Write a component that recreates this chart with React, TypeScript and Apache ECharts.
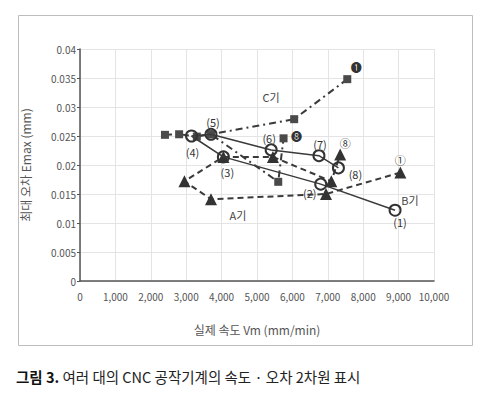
import React, { useEffect, useRef } from "react";
import * as echarts from "echarts";

// Series B (circles, solid line), points in label order (1)..(8)
const bLabels = ["(1)", "(2)", "(3)", "(4)", "(5)", "(6)", "(7)", "(8)"];
const bX = [8900, 6800, 4050, 3150, 3700, 5400, 6750, 7300];
const bY = [0.0122, 0.0167, 0.0214, 0.025, 0.0253, 0.0226, 0.0216, 0.0195];

// Series A (triangles, dashed line)
const aLabels = ["①", "", "", "", "", "", "", "⑧"];
const aX = [9050, 6950, 3700, 2950, 4050, 5450, 7100, 7350];
const aY = [0.0187, 0.015, 0.0141, 0.0172, 0.0214, 0.0214, 0.0172, 0.0218];

// Series C (squares, dash-dot line)
const cLabels = ["❶", "", "", "", "❽"];
const cX = [7550, 6050, 3700, 5600, 5750];
const cY = [0.0348, 0.0279, 0.0253, 0.0171, 0.0246];
const cLeftX = [2400, 2800, 3300, 3700];
const cLeftY = [0.0252, 0.0253, 0.0249, 0.0253];

const xTicks = ["0", "1,000", "2,000", "3,000", "4,000", "5,000", "6,000", "7,000", "8,000", "9,000", "10,000"];
const groupNames = ["A기", "B기", "C기"];

// label offsets (styling)
const bOffsets = [[5, 12], [-11, 9], [4, 15], [1, 16], [2, -12], [-2, -12], [1, -12], [17, 6]];
const aOffsets = [[0, -13], [0, 0], [0, 0], [0, 0], [0, 0], [0, 0], [0, 0], [5, -12]];
const cOffsets = [[9, -12], [0, 0], [0, 0], [0, 0], [13, -2]];

const FONT = "'Noto Sans CJK KR', 'Noto Sans', sans-serif";
const INK = "#3a3a3a";

function mk(xs: number[], ys: number[], labels?: string[], offs?: number[][]) {
  return xs.map((x, i) => {
    const lbl = labels ? labels[i] : "";
    const item: any = { value: [x, ys[i]] };
    if (lbl) {
      item.label = {
        show: true,
        formatter: lbl,
        position: "inside",
        offset: offs ? offs[i] : [0, 0],
        color: "#333",
        fontSize: 11,
        fontFamily: FONT,
      };
    }
    return item;
  });
}

export default function App() {
  const ref = useRef<HTMLDivElement>(null);
  useEffect(() => {
    if (!ref.current) return;
    const chart = echarts.init(ref.current, null, { renderer: "svg" });
    const option: any = {
      animation: false,
      backgroundColor: "#fff",
      grid: { left: 80, right: 52, top: 49, bottom: 112 },
      xAxis: {
        type: "value",
        min: 0,
        max: 10000,
        interval: 1000,
        name: "실제 속도 Vm (mm/min)",
        nameLocation: "middle",
        nameGap: 42,
        nameTextStyle: { color: "#555", fontSize: 12, fontFamily: FONT },
        axisLine: { show: true, lineStyle: { color: "#555", width: 1.5 } },
        axisTick: { show: false },
        axisLabel: {
          color: "#555",
          fontSize: 10,
          fontFamily: FONT,
          margin: 10,
          formatter: (v: number) => xTicks[Math.round(v / 1000)] ?? String(v),
        },
        splitLine: { show: true, lineStyle: { color: "#e4e4e4", width: 1 } },
      },
      yAxis: {
        type: "value",
        min: 0,
        max: 0.04,
        interval: 0.005,
        name: "최대 오차 Emax (mm)",
        nameLocation: "middle",
        nameGap: 49,
        nameTextStyle: { color: "#555", fontSize: 12, fontFamily: FONT },
        axisLine: { show: true, lineStyle: { color: "#555", width: 1.5 } },
        axisTick: { show: true, length: 3, lineStyle: { color: "#555" } },
        axisLabel: { color: "#555", fontSize: 10, fontFamily: FONT, margin: 4 },
        splitLine: { show: true, lineStyle: { color: "#e4e4e4", width: 1 } },
      },
      series: [
        {
          type: "line",
          data: mk(cLeftX, cLeftY),
          symbol: "rect",
          symbolSize: 8,
          itemStyle: { color: "#4a4a4a" },
          lineStyle: { color: INK, width: 2, type: [7, 4, 2, 4] },
          z: 2,
        },
        {
          type: "line",
          data: mk(cX, cY, cLabels, cOffsets),
          symbol: "rect",
          symbolSize: 8,
          itemStyle: { color: "#4a4a4a" },
          lineStyle: { color: INK, width: 2, type: [7, 4, 2, 4] },
          z: 2,
        },
        {
          type: "line",
          data: mk(aX, aY, aLabels, aOffsets),
          symbol: "triangle",
          symbolSize: 12,
          itemStyle: { color: "#333" },
          lineStyle: { color: INK, width: 2, type: [6, 4] },
          z: 3,
        },
        {
          type: "line",
          data: mk(bX, bY, bLabels, bOffsets),
          symbol: "circle",
          symbolSize: 11,
          itemStyle: { color: "rgba(255,255,255,0)", borderColor: "#333", borderWidth: 2 },
          lineStyle: { color: INK, width: 1.5 },
          z: 4,
        },
      ],
      graphic: [
        {
          type: "rect",
          left: 16,
          top: 13,
          shape: { width: 454, height: 330 },
          style: { fill: "none", stroke: "#bdbdbd", lineWidth: 1 },
          silent: true,
        },
        {
          type: "text",
          x: 238,
          y: 215,
          style: { text: groupNames[0], fill: "#444", fontSize: 11, fontFamily: FONT, align: "center", verticalAlign: "middle" },
        },
        {
          type: "text",
          x: 410,
          y: 200,
          style: { text: groupNames[1], fill: "#444", fontSize: 11, fontFamily: FONT, align: "center", verticalAlign: "middle" },
        },
        {
          type: "text",
          x: 271,
          y: 97,
          style: { text: groupNames[2], fill: "#444", fontSize: 11, fontFamily: FONT, align: "center", verticalAlign: "middle" },
        },
        {
          type: "text",
          x: 16,
          y: 376,
          style: {
            text: "{b|그림 3.} {n|여러 대의 CNC 공작기계의 속도 · 오차 2차원 표시}",
            verticalAlign: "middle",
            rich: {
              b: { fontSize: 14.5, fontWeight: "bold", fill: "#111", fontFamily: FONT },
              n: { fontSize: 14.5, fill: "#222", fontFamily: FONT },
            },
            fontSize: 14.5,
            fontFamily: FONT,
          },
        },
      ],
    };
    chart.setOption(option);
    return () => chart.dispose();
  }, []);
  return (
    <div
      ref={ref}
      style={{ position: "fixed", left: 0, top: 0, width: 486, height: 393, background: "#fff" }}
    />
  );
}
